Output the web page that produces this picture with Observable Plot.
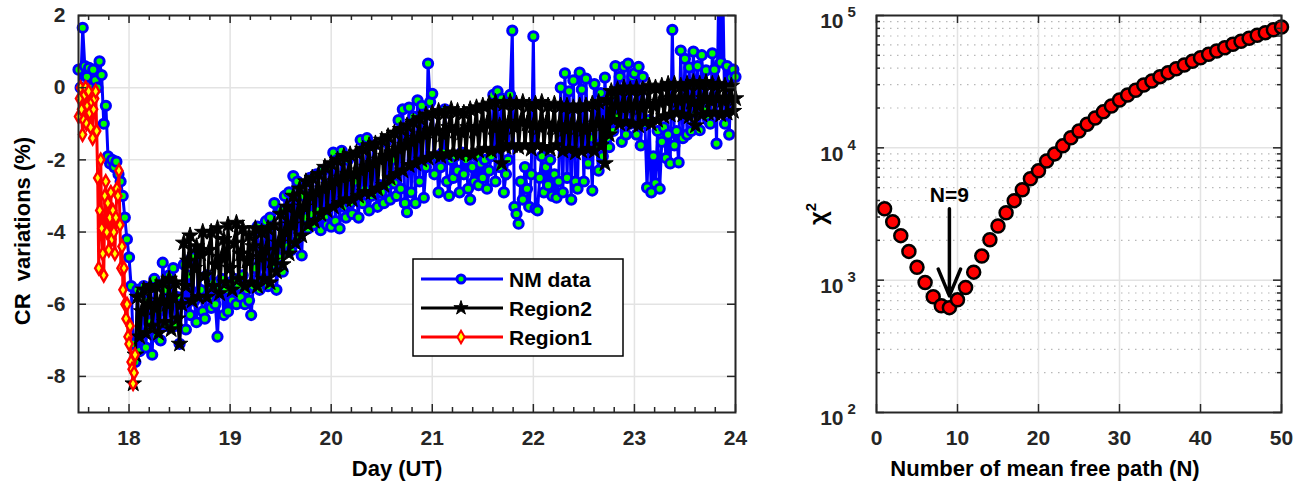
<!DOCTYPE html>
<html><head><meta charset="utf-8">
<script src="https://cdn.jsdelivr.net/npm/d3@7"></script>
<script src="https://cdn.jsdelivr.net/npm/@observablehq/plot@0.6"></script>
<style>
body{margin:0;background:#fff;}
#wrap{position:relative;width:1307px;height:485px;overflow:hidden;background:#fff;}
#wrap > svg{position:absolute;top:0;}
</style></head><body><div id="wrap"></div>
<script>
// ---------- DATA ----------
// Left panel: cosmic-ray variations (%), 30-minute samples starting at day 17.5
const nmStart = 17.5;
const step = 1 / 48;
const nmValues = [
  // 17.50
  0.5, 0.0, 1.66, 0.6, 0.3, 0.55, 0.0, 0.5, 0.2, 0.0, 0.73, 0.35,
  // 17.75
  -1.0, -0.5, -1.9, -2.1, -2.0, -2.2, -2.05, -2.4, -2.6, -3.0, -3.6, -4.2,
  // 18.00
  -4.7, -5.5, -7.1, -7.6, -5.6, -7.3, -6.8, -5.5, -7.2, -5.9, -6.5, -7.4,
  // 18.25
  -5.3, -6.9, -6.2, -7.0, -4.85, -5.6, -6.6, -5.2, -6.0, -5.0, -6.6, -5.8,
  // 18.50
  -7.1, -6.0, -4.9, -6.7, -5.2, -6.3, -4.7, -5.9, -6.5, -4.5, -5.6, -6.2,
  // 18.75
  -6.4, -5.2, -5.8, -6.1, -5.4, -6.0, -6.9, -5.6, -5.3, -6.3, -5.6, -6.2,
  // 19.00
  -5.4, -5.9, -5.3, -6.0, -5.5, -5.8, -5.2, -6.0, -5.6, -5.9, -6.3, -5.5,
  // 19.25
  -5.0, -3.85, -5.6, -4.0, -5.3, -3.7, -5.5, -3.6, -4.9, -3.2, -5.6, -4.7,
  // 19.50
  -3.4, -5.1, -3.0, -4.4, -2.9, -4.5, -2.45, -4.3, -2.6, -4.1, -4.65, -3.0,
  // 19.75
  -3.6, -3.9, -2.5, -3.5, -3.8, -2.4, -3.4, -3.95, -2.3, -3.6, -3.8, -2.2,
  // 20.00
  -3.85, -1.8, -3.7, -2.0, -3.9, -1.75, -3.3, -3.6, -2.0, -3.2, -3.5, -2.6,
  // 20.25
  -3.0, -3.6, -1.45, -3.2, -2.8, -1.4, -3.4, -3.0, -1.6, -2.9, -3.3, -2.7,
  // 20.50
  -2.9, -3.2, -1.5, -2.7, -3.1, -2.0, -2.65, -3.0, -0.9, -2.8, -0.6, -3.2,
  // 20.75
  -3.45, -0.55, -2.9, -0.8, -3.2, -0.35, -2.6, -0.5, -3.05, -2.2, 0.67, -0.4,
  // 21.00
  -0.17, -2.4, -1.9, -2.9, -2.2, -1.8, -0.6, -2.6, -3.0, -2.0, -2.5, -1.9,
  // 21.25
  -2.3, -2.9, -1.8, -2.4, -2.0, -2.8, -3.1, -2.2, -2.6, -1.9, -2.7, -2.1,
  // 21.50
  -2.5, -2.0, -2.8, -2.3, -1.9, -0.2, -2.6, -0.1, -2.2, -0.3, -2.9, -2.4,
  // 21.75
  -2.0, -0.2, 1.58, -3.3, -3.5, -3.77, -2.6, -3.1, -2.2, -2.8, -3.3, -2.4,
  // 22.00
  1.42, -3.35, -3.4, -2.5, -1.9, -2.9, -2.2, -2.7, -2.0, -3.0, -2.4, -3.05,
  // 22.25
  -2.6, 0.0, -2.9, 0.4, -2.5, -0.1, -3.1, 0.2, -2.6, -2.8, 0.42, -0.05,
  // 22.50
  -2.6, 0.25, -2.1, -1.4, -2.85, 0.1, -1.6, -2.3, -0.15, -1.9, 0.28, -1.4,
  // 22.75
  -1.65, -0.2, -1.2, 0.6, -0.8, 0.3, -1.5, 0.58, -1.3, 0.67, -1.0, 0.3,
  // 23.00
  0.4, -1.3, 0.58, -1.6, 0.3, -1.0, -2.77, -0.9, -2.9, -1.9, -2.65, -1.2,
  // 23.25
  -2.8, -1.5, -1.1, -1.95, -1.3, -2.1, 1.6, -1.6, -1.2, -2.07, 1.03, -1.4,
  // 23.50
  0.8, -1.3, 0.56, -1.2, 1.0, -0.7, 0.6, -1.18, 0.9, -0.63, 0.48, -0.9,
  // 23.75
  -1.0, 0.95, 0.5, -1.55, 2.6, 0.7, 2.6, -1.0, 0.6, -1.3, 0.28, 0.5,
  // 24.00
  0.3
];
// Region2 model, 30-minute samples from day 18.042
const region2Start = 17.5 + 26 / 48;
const region2Values = [
  -8.2, -7.4, -5.8, -6.9, -6.2, -5.6, -6.8, -6.0, -5.5, -6.6,
  -6.1, -5.5, -6.8, -5.9, -5.4, -6.5, -6.0, -5.3, -6.7, -5.8, -5.4, -6.4,
  -7.1, -6.0, -4.3, -5.5, -4.8, -4.1, -5.9, -5.0, -4.4, -5.8, -4.6, -4.0,
  -5.2, -5.8, -4.5, -4.0, -5.5, -4.9, -3.9, -5.7, -4.7, -4.2, -5.4, -3.8,
  -5.0, -5.6, -4.3, -3.75, -5.3, -4.6, -3.9, -5.5, -4.8, -4.1, -5.4, -4.4,
  -3.9, -5.5, -4.7, -4.0, -5.3, -4.5, -3.9, -5.4, -4.8, -3.8, -5.1, -4.3,
  -3.5, -4.9, -4.0, -3.3, -4.6, -3.8, -3.0, -4.3, -3.5, -2.8, -4.1, -3.3,
  -2.6, -3.8, -3.0, -2.5, -3.7, -2.9, -2.4, -3.5, -2.8, -2.2, -3.4, -2.7,
  -2.1, -3.3, -2.6, -2.0, -3.2, -2.5, -1.9, -3.1, -2.4, -1.85, -3.1, -2.4,
  -1.8, -3.0, -2.3, -1.7, -2.9, -2.2, -1.6, -2.9, -2.1, -1.55, -2.8, -2.0,
  -1.45, -2.7, -1.9, -1.35, -2.5, -1.8, -1.25, -2.4, -1.7, -1.15, -2.3, -1.6,
  -1.05, -2.15, -1.5, -0.95, -2.1, -1.4, -0.85, -2.0, -1.3, -0.75, -1.95, -1.2,
  -0.7, -1.85, -1.2, -0.65, -1.9, -1.3, -0.7, -1.85, -1.1, -0.6, -1.8, -1.2,
  -0.65, -1.85, -1.25, -0.7, -1.8, -1.1, -0.6, -1.85, -1.2, -0.55, -1.75, -1.1,
  -0.5, -1.7, -1.0, -0.45, -1.75, -1.1, -0.4, -1.7, -1.05, -2.1, -0.45, -1.65,
  -1.0, -0.4, -1.6, -1.1, -0.45, -1.65, -0.95, -0.4, -1.6, -1.0, -0.5, -1.7,
  -1.05, -0.45, -1.6, -1.1, -0.4, -1.65, -1.0, -0.5, -1.7, -1.1, -0.45, -1.6,
  -1.1, -0.5, -1.75, -1.15, -0.5, -1.7, -1.05, -0.55, -1.8, -1.1, -0.5, -1.75,
  -1.15, -0.5, -1.7, -1.1, -0.45, -1.75, -1.0, -0.4, -1.6, -1.0, -2.1, -0.35,
  -1.3, -0.1, -0.9, -0.5, -0.05, -1.0, -0.55, 0.0, -0.95, -0.5, -0.05, -1.0,
  -0.5, 0.0, -1.05, -0.55, -0.05, -0.95, -0.45, 0.05, -1.0, -0.5, 0.0, -0.9,
  -0.4, 0.05, -0.8, -0.35, 0.1, -0.75, -0.3, 0.1, -0.7, -0.35, 0.05, -0.75,
  -0.3, 0.1, -0.8, -0.4, 0.15, -1.05, -0.5, 0.1, -0.75, -0.3, 0.15, -0.7,
  -0.35, 0.1, -0.7, -0.3, 0.1, -0.75, -0.35, 0.05, -0.7, -0.3, 0.05, -0.65,
  -0.3
];
// Region1 model
const region1Days = [17.50, 17.51, 17.52, 17.53, 17.54, 17.55, 17.56, 17.57, 17.58, 17.59,
  17.60, 17.61, 17.62, 17.63, 17.64, 17.65, 17.66, 17.67, 17.68, 17.69,
  17.70, 17.71, 17.72, 17.73, 17.74, 17.75, 17.76, 17.77, 17.78, 17.79,
  17.80, 17.81, 17.82, 17.83, 17.84, 17.85, 17.86, 17.87, 17.88, 17.89,
  17.90, 17.91, 17.92, 17.93, 17.94, 17.95, 17.96, 17.97, 17.98, 17.99,
  18.00, 18.01, 18.02, 18.03, 18.04, 18.05, 18.06];
const region1Values = [-0.8, -0.3, 0.0, -0.6, -1.3, -0.9, -0.2, 0.0, -1.0, -0.5,
  -0.1, -0.7, -1.1, -0.4, -1.4, -0.6, -0.3, -0.1, -1.2, -2.5,
  -5.0, -3.4, -2.0, -3.9, -4.6, -5.2, -3.0, -2.6, -4.0, -3.2,
  -4.5, -3.6, -2.9, -4.2, -3.4, -4.0, -4.6, -3.6, -2.8, -3.0,
  -2.3, -3.8, -5.0, -4.4, -5.6, -5.0, -6.0, -6.4, -6.0, -6.9,
  -7.1, -6.6, -7.6, -7.8, -8.2, -7.9, -7.4];
const dayTicks = [18, 19, 20, 21, 22, 23, 24];
const cvTicks = [-8, -6, -4, -2, 0, 2];

// Right panel: chi-square vs number of mean free paths
const chiN = d3.range(1, 51);
const chiValues = [3470, 2760, 2170, 1650, 1250, 960, 750, 640, 620, 710,
  880, 1150, 1520, 2020, 2570, 3230, 3990, 4820, 5840, 6700,
  7950, 9000, 10350, 11900, 13400, 15100, 16800, 18700, 20700, 23000,
  25100, 27200, 29800, 32000, 34500, 37000, 39600, 42300, 45100, 48000,
  50900, 53900, 57100, 60600, 63900, 67300, 70900, 74200, 78100, 81800];
const nTicks = [0, 10, 20, 30, 40, 50];
const decades = [100, 1000, 10000, 100000];
const exponents = ["2", "3", "4", "5"];
const annotation = [{n: 9, from: 3470, to: 760, labelAt: 4350, text: "N=9"}];

// ---------- BUILD ----------
const FONT = '"Liberation Sans", Arial, Helvetica, sans-serif';
const AX = "#262626";
const nm = nmValues.map((v, i) => ({d: nmStart + i * step, v}));
const r2 = region2Values.map((v, i) => ({d: region2Start + i * step, v}));
const r1 = region1Days.map((d, i) => ({d, v: region1Values[i]}));
const chi = chiN.map((n, i) => ({n, v: chiValues[i]}));
const minorDays = d3.range(17.6, 24, 0.2).filter(d => Math.abs(d - Math.round(d)) > 0.05);
const minorChi = [];
[100, 1000, 10000].forEach(b => { for (let k = 2; k <= 9; k++) minorChi.push(b * k); });

const LFH = 397, LFW = 657, RFW = 405;
const style = {fontFamily: FONT, fontWeight: "bold", fontSize: "21px", color: AX, background: "transparent", overflow: "visible"};
const inY = p => p.v <= 2.05 && p.v >= -9;

const left = Plot.plot({
  width: 760, height: 485, marginLeft: 78, marginRight: 25, marginTop: 15, marginBottom: 73,
  x: {domain: [17.5, 24], axis: null},
  y: {domain: [-9, 2], axis: null},
  style,
  marks: [
    Plot.gridX(dayTicks, {stroke: "#e3e3e3", strokeOpacity: 1, strokeWidth: 1.5}),
    Plot.gridY(cvTicks, {stroke: "#e3e3e3", strokeOpacity: 1, strokeWidth: 1.5}),
    Plot.line(nm, {x: "d", y: "v", stroke: "#0000ff", strokeWidth: 3, clip: true}),
    Plot.dot(nm.filter(inY), {x: "d", y: "v", r: 4.6, stroke: "#0000ff", strokeWidth: 3, fill: "#00ff00"}),
    Plot.line(r2, {x: "d", y: "v", stroke: "#000", strokeWidth: 3, clip: true}),
    Plot.dot(r2, {x: "d", y: "v", symbol: "star", r: 5.2, fill: "#000", stroke: "#000", strokeWidth: 1}),
    Plot.line(r1, {x: "d", y: "v", stroke: "#ff0000", strokeWidth: 3, clip: true}),
    Plot.dot(r1, {x: "d", y: "v", symbol: "diamond", r: 3.8, stroke: "#ff0000", strokeWidth: 2.4, fill: "#ffff00"}),
    Plot.tickX(dayTicks, {x: d => d, insetTop: LFH - 8, stroke: AX, strokeWidth: 1.5}),
    Plot.tickX(dayTicks, {x: d => d, insetBottom: LFH - 8, stroke: AX, strokeWidth: 1.5}),
    Plot.tickX(minorDays, {x: d => d, insetTop: LFH - 5, stroke: AX, strokeWidth: 1.5}),
    Plot.tickX(minorDays, {x: d => d, insetBottom: LFH - 5, stroke: AX, strokeWidth: 1.5}),
    Plot.tickY(cvTicks, {y: d => d, insetRight: LFW - 8, stroke: AX, strokeWidth: 1.5}),
    Plot.tickY(cvTicks, {y: d => d, insetLeft: LFW - 8, stroke: AX, strokeWidth: 1.5}),
    Plot.frame({stroke: AX, strokeWidth: 2}),
    Plot.axisX(dayTicks, {tickSize: 0, tickPadding: 18, label: null, fill: AX, fontSize: 21, tickFormat: d => String(d)}),
    Plot.axisY(cvTicks, {tickSize: 0, tickPadding: 13, label: null, fill: AX, fontSize: 21, tickFormat: d => String(d)})
  ]
});
left.style.left = "0px";

const right = Plot.plot({
  width: 547, height: 485, marginLeft: 116, marginRight: 26, marginTop: 15, marginBottom: 73,
  x: {domain: [0, 50], axis: null},
  y: {type: "log", domain: [100, 100000], axis: null},
  style,
  marks: [
    Plot.gridY(minorChi, {stroke: "#b8b8b8", strokeOpacity: 1, strokeWidth: 1.2, strokeDasharray: "1.5,5.5"}),
    Plot.gridX([10, 20, 30, 40], {stroke: "#e3e3e3", strokeOpacity: 1, strokeWidth: 1.5}),
    Plot.gridY([1000, 10000], {stroke: "#e3e3e3", strokeOpacity: 1, strokeWidth: 1.5}),
    Plot.dot(chi, {x: "n", y: "v", r: 6.5, fill: "#ff0000", stroke: "#000", strokeWidth: 2.5}),
    Plot.arrow(annotation, {x1: "n", y1: "from", x2: "n", y2: "to", stroke: "#000", strokeWidth: 3.5, headLength: 25, headAngle: 45, bend: 0}),
    Plot.text(annotation, {x: "n", y: "labelAt", text: "text", fill: "#000", fontSize: 21, fontWeight: "bold"}),
    Plot.tickX(nTicks, {x: d => d, insetTop: LFH - 8, stroke: AX, strokeWidth: 1.5}),
    Plot.tickX(nTicks, {x: d => d, insetBottom: LFH - 8, stroke: AX, strokeWidth: 1.5}),
    Plot.tickY(decades, {y: d => d, insetRight: RFW - 8, stroke: AX, strokeWidth: 1.5}),
    Plot.tickY(decades, {y: d => d, insetLeft: RFW - 8, stroke: AX, strokeWidth: 1.5}),
    Plot.tickY(minorChi, {y: d => d, insetRight: RFW - 4, stroke: AX, strokeWidth: 1.5}),
    Plot.tickY(minorChi, {y: d => d, insetLeft: RFW - 4, stroke: AX, strokeWidth: 1.5}),
    Plot.frame({stroke: AX, strokeWidth: 2}),
    Plot.axisX(nTicks, {tickSize: 0, tickPadding: 18, label: null, fill: AX, fontSize: 21, tickFormat: d => String(d)}),
    Plot.text(decades, {y: d => d, frameAnchor: "left", text: () => "10", textAnchor: "end", dx: -33, dy: 6, fill: AX, fontSize: 21}),
    Plot.text(decades, {y: d => d, frameAnchor: "left", text: (d, i) => exponents[i], textAnchor: "start", dx: -29, dy: -3, fill: AX, fontSize: 15})
  ]
});
right.style.left = "760px";

const wrap = document.getElementById("wrap");
wrap.appendChild(left);
wrap.appendChild(right);

// overlay: axis titles + legend
const ov = d3.select(wrap).append("svg")
  .attr("width", 1307).attr("height", 485)
  .style("left", "0px").style("pointer-events", "none")
  .style("font-family", FONT).style("font-weight", "bold");

ov.append("text").attr("x", 397).attr("y", 476).attr("text-anchor", "middle")
  .attr("font-size", 22).attr("fill", "#000").text("Day (UT)");
ov.append("text").attr("x", 1045).attr("y", 476).attr("text-anchor", "middle")
  .attr("font-size", 22).attr("fill", "#000").text("Number of mean free path (N)");
ov.append("text").attr("transform", "translate(30,231) rotate(-90)").attr("text-anchor", "middle")
  .attr("font-size", 22).attr("fill", "#000").attr("xml:space", "preserve").style("white-space", "pre")
  .text("CR  variations (%)");
const chiLbl = ov.append("text").attr("transform", "translate(826,214) rotate(-90)").attr("text-anchor", "middle")
  .attr("font-size", 24).attr("fill", "#000");
chiLbl.append("tspan").text("χ");
chiLbl.append("tspan").attr("dy", -10).attr("font-size", 15).text("2");

// legend
const lg = ov.append("g");
lg.append("rect").attr("x", 413).attr("y", 259).attr("width", 210).attr("height", 97)
  .attr("fill", "#fff").attr("stroke", "#000").attr("stroke-width", 1.5);
const entries = [
  {name: "NM data", y: 279, color: "#0000ff", sym: d3.symbolCircle, size: Math.PI * 16, fill: "#00ff00", sw: 3},
  {name: "Region2", y: 308, color: "#000", sym: d3.symbolStar, size: Math.PI * 20, fill: "#000", sw: 1},
  {name: "Region1", y: 337, color: "#ff0000", sym: d3.symbolDiamond, size: Math.PI * 3.8 * 3.8, fill: "#ffff00", sw: 2}
];
entries.forEach(e => {
  lg.append("line").attr("x1", 421).attr("x2", 503).attr("y1", e.y).attr("y2", e.y)
    .attr("stroke", e.color).attr("stroke-width", 3);
  lg.append("path").attr("d", d3.symbol(e.sym, e.size)()).attr("transform", `translate(461,${e.y})`)
    .attr("fill", e.fill).attr("stroke", e.color).attr("stroke-width", e.sw);
  lg.append("text").attr("x", 509).attr("y", e.y + 7.5).attr("font-size", 21).attr("fill", "#000").text(e.name);
});
</script>
</body></html>
